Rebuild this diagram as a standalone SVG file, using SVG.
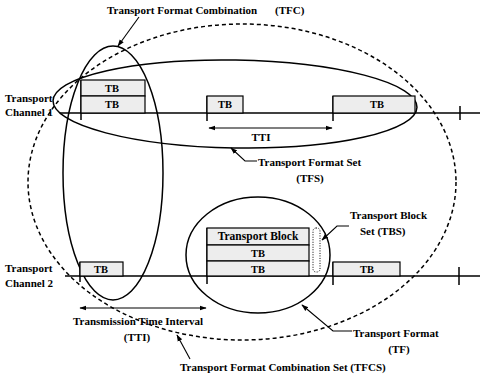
<svg xmlns="http://www.w3.org/2000/svg" width="480" height="381" viewBox="0 0 480 381">
<style>
text{font-family:"Liberation Serif","Times New Roman",serif;font-weight:bold;font-size:11px;fill:#000}
.tb{font-size:10.5px;text-anchor:middle}
.c{text-anchor:middle}
.box{fill:#ededed;stroke:#000;stroke-width:1.2}
.ln{fill:none;stroke:#000;stroke-width:1.5}
.thin{fill:none;stroke:#000;stroke-width:1.1}
.dash{fill:none;stroke:#000;stroke-width:1.5;stroke-dasharray:4 3}
.dot{fill:none;stroke:#000;stroke-width:1;stroke-dasharray:1 1.5}
</style>
<defs>
<marker id="ah" viewBox="0 0 10 10" refX="9" refY="5" markerWidth="7" markerHeight="7" markerUnits="userSpaceOnUse" orient="auto-start-reverse">
<path d="M0,1.5 L10,5 L0,8.5 Z" fill="#000"/>
</marker>
</defs>
<rect width="480" height="381" fill="#fff"/>

<g id="tfcs-ellipse"><ellipse class="dash" cx="242" cy="182" rx="214" ry="158"/></g>
<g id="tfc-ellipse"><ellipse class="ln" cx="113" cy="173" rx="50" ry="127"/></g>
<g id="tfs-ellipse"><ellipse class="ln" cx="235" cy="104" rx="182" ry="44" transform="rotate(1 235 104)"/></g>
<g id="tf-ellipse"><ellipse class="ln" cx="258" cy="255" rx="72" ry="58"/></g>

<g id="channel1">
<line class="ln" x1="60" y1="113" x2="480" y2="113"/>
<line class="ln" x1="81" y1="80" x2="81" y2="120"/>
<line class="ln" x1="207" y1="96" x2="207" y2="121"/>
<line class="ln" x1="333" y1="96" x2="333" y2="121"/>
<line class="ln" x1="460" y1="106" x2="460" y2="120"/>
<rect class="box" x="81" y="80" width="64" height="16"/>
<rect class="box" x="81" y="96" width="64" height="17"/>
<rect class="box" x="207" y="96" width="36" height="17"/>
<rect class="box" x="333" y="96" width="82" height="17"/>
<text class="tb" x="112" y="92">TB</text>
<text class="tb" x="112" y="108">TB</text>
<text class="tb" x="225" y="108">TB</text>
<text class="tb" x="377" y="108">TB</text>
<text x="5" y="102">Transport</text>
<text x="5" y="116">Channel 1</text>
</g>

<g id="channel2">
<line class="ln" x1="65" y1="276" x2="480" y2="276"/>
<line class="ln" x1="80" y1="262" x2="80" y2="282"/>
<line class="ln" x1="207" y1="228" x2="207" y2="284"/>
<line class="ln" x1="333" y1="262" x2="333" y2="285"/>
<line class="ln" x1="459" y1="267" x2="459" y2="285"/>
<rect class="box" x="80" y="262" width="43" height="14"/>
<rect class="box" x="207" y="228" width="102" height="17"/>
<rect class="box" x="207" y="245" width="102" height="16"/>
<rect class="box" x="207" y="261" width="102" height="15"/>
<rect class="box" x="333" y="262" width="67" height="14"/>
<rect class="dot" x="313" y="228" width="7" height="44" rx="3"/>
<text class="tb" x="101" y="273">TB</text>
<text class="c" x="258" y="240" style="font-size:11.5px">Transport Block</text>
<text class="tb" x="258" y="257">TB</text>
<text class="tb" x="258" y="273">TB</text>
<text class="tb" x="367" y="273">TB</text>
<text x="5" y="272">Transport</text>
<text x="5" y="287">Channel 2</text>
</g>

<g id="connectors">
<line class="thin" x1="139" y1="17" x2="118" y2="46" marker-end="url(#ah)"/>
<line class="thin" x1="209" y1="128" x2="332" y2="128" marker-start="url(#ah)" marker-end="url(#ah)"/>
<line class="thin" x1="80" y1="308" x2="206" y2="308" marker-start="url(#ah)" marker-end="url(#ah)"/>
<polyline class="thin" points="257,161 245,161 231,148" marker-end="url(#ah)"/>
<polyline class="thin" points="349,226 337,226 322,240" marker-end="url(#ah)"/>
<polyline class="thin" points="352,331 333,331 302,305" marker-end="url(#ah)"/>
<line class="thin" x1="190" y1="359" x2="177" y2="335" marker-end="url(#ah)"/>
</g>

<g id="labels">
<text x="107" y="14">Transport Format Combination</text>
<text x="275" y="14">(TFC)</text>
<text class="c" x="261" y="141">TTI</text>
<text x="258" y="166">Transport Format Set</text>
<text class="c" x="310" y="182">(TFS)</text>
<text x="350" y="219">Transport Block</text>
<text x="360" y="235">Set (TBS)</text>
<text x="73" y="325">Transmission Time Interval</text>
<text class="c" x="137" y="341">(TTI)</text>
<text x="353" y="337">Transport Format</text>
<text class="c" x="399" y="353">(TF)</text>
<text x="180" y="371">Transport Format Combination Set (TFCS)</text>
</g>
</svg>
